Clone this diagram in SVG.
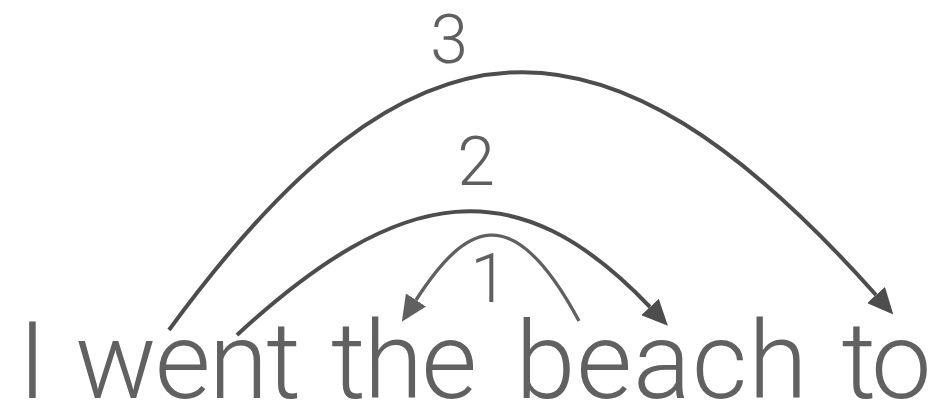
<svg xmlns="http://www.w3.org/2000/svg" width="941" height="403" viewBox="0 0 941 403">
<style>
.word{font-family:Roboto,"Liberation Sans",sans-serif;font-weight:300;font-size:108px;fill:#616161;text-anchor:middle}
.num{font-family:Roboto,"Liberation Sans",sans-serif;font-weight:300;font-size:68px;fill:#5f5f5f;text-anchor:middle}
.arc{fill:none;stroke:#4d4d4d;stroke-width:4}
.arc1{fill:none;stroke:#606060;stroke-width:3.3}
</style>
<defs>
<marker id="ah" viewBox="0 -12 26 24" refX="0" refY="0" markerWidth="26" markerHeight="24" markerUnits="userSpaceOnUse" orient="auto">
<path d="M0,-12 L26,0 L0,12 z" fill="#4d4d4d"/>
</marker>
<marker id="ah1" viewBox="0 -12 26 24" refX="0" refY="0" markerWidth="26" markerHeight="24" markerUnits="userSpaceOnUse" orient="auto">
<path d="M0,-12 L26,0 L0,12 z" fill="#606060"/>
</marker>
</defs>
<g id="connectors">
<path id="arc3" class="arc" d="M169,330 C410,0 600,-15 876,295" marker-end="url(#ah)"/>
<path id="arc2" class="arc" d="M237,335 C401,184 517,167 650,307" marker-end="url(#ah)"/>
<path id="arc1" class="arc1" d="M579,321 C511,194 464,226 416,300" marker-end="url(#ah1)"/>
<text class="num" x="449" y="63">3</text>
<text class="num" x="476" y="185">2</text>
<text class="num" x="489" y="302">1</text>
</g>
<g id="word-I"><text class="word" x="32.5" y="398">I</text></g>
<g id="word-went"><text class="word" x="188" y="398" textLength="226">went</text></g>
<g id="word-the"><text class="word" x="404" y="398" textLength="146">the</text></g>
<g id="word-beach"><text class="word" x="661.5" y="398" textLength="292">beach</text></g>
<g id="word-to"><text class="word" x="886.5" y="398" textLength="90">to</text></g>
</svg>
